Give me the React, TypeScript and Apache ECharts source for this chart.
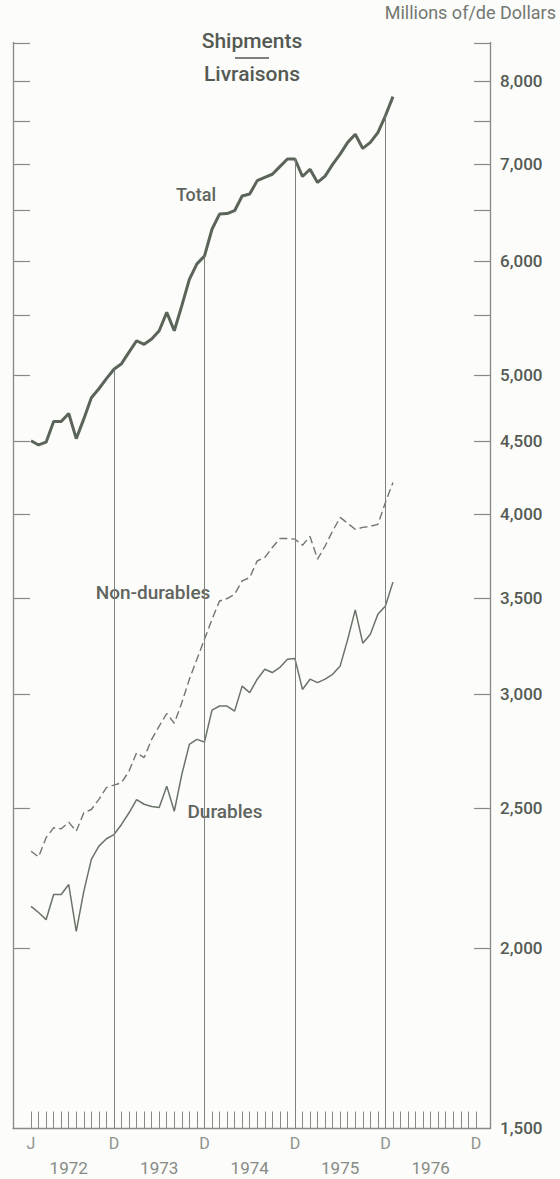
import React, { useEffect, useRef } from 'react';
import * as echarts from 'echarts';

// Monthly values, Jan 1972 .. Jan 1976 (millions of dollars)
const total = [4500, 4470, 4490, 4640, 4640, 4700, 4515, 4660, 4820, 4890, 4970, 5045,
  5090, 5185, 5280, 5250, 5295, 5365, 5525, 5365, 5585, 5825, 5970, 6045,
  6310, 6465, 6470, 6500, 6655, 6675, 6820, 6855, 6890, 6975, 7060, 7060,
  6865, 6945, 6800, 6870, 7000, 7115, 7250, 7345, 7180, 7250, 7365, 7565,
  7800];
const nonDurables = [2335, 2314, 2386, 2424, 2420, 2446, 2411, 2483, 2496, 2537, 2585, 2595,
  2605, 2654, 2733, 2712, 2792, 2852, 2910, 2865, 2961, 3074, 3173, 3276,
  3383, 3483, 3497, 3521, 3597, 3616, 3714, 3734, 3794, 3849, 3849, 3845,
  3808, 3862, 3724, 3803, 3896, 3981, 3944, 3906, 3918, 3925, 3937, 4077,
  4209];
const durables = [2138, 2117, 2093, 2179, 2179, 2214, 2054, 2190, 2305, 2354, 2382, 2398,
  2437, 2483, 2536, 2517, 2508, 2504, 2591, 2489, 2640, 2770, 2792, 2780,
  2926, 2945, 2945, 2921, 3040, 3009, 3074, 3123, 3107, 3132, 3173, 3177,
  3024, 3074, 3057, 3074, 3098, 3140, 3276, 3434, 3256, 3303, 3410, 3456,
  3590];

const decemberIdx = [11, 23, 35, 47];
const monthTicks = [0, 1, 2, 3, 4, 5, 6, 7, 8, 9, 10, 11, 12, 13, 14, 15, 16, 17, 18, 19,
  20, 21, 22, 23, 24, 25, 26, 27, 28, 29, 30, 31, 32, 33, 34, 35, 36, 37, 38, 39,
  40, 41, 42, 43, 44, 45, 46, 47, 48, 49, 50, 51, 52, 53, 54, 55, 56, 57, 58, 59];
const monthLabelPos = [0, 11, 23, 35, 47, 59];
const monthLabelText = ['J', 'D', 'D', 'D', 'D', 'D'];
const yearPos = [5, 17, 29, 41, 53];
const yearText = ['1972', '1973', '1974', '1975', '1976'];
const yTicks = [2000, 2500, 3000, 3500, 4000, 4500, 5000, 5500, 6000, 6500, 7000, 7500, 8000, 8500];
const yLabels = [1500, 2000, 2500, 3000, 3500, 4000, 4500, 5000, 6000, 7000, 8000];

const FONT = 'Roboto';
const AXIS = '#858a84';
const INK = '#545a53';
const LINE = '#5b6459';

export default function App() {
  const ref = useRef<HTMLDivElement>(null);
  useEffect(() => {
    if (!ref.current) return;
    const chart = echarts.init(ref.current, undefined, { renderer: 'svg' });
    const toPairs = (arr: number[]) => arr.map((v, i) => [i, v]);
    const xMin = -2.39;
    const xMax = 60.87;
    const option: any = {
      animation: false,
      backgroundColor: '#fcfcfa',
      grid: { left: 13, right: 70, top: 42.5, bottom: 50.5 },
      xAxis: [
        {
          type: 'value', min: xMin, max: xMax, position: 'bottom',
          splitLine: { show: false },
          axisLine: { show: true, onZero: false, lineStyle: { color: AXIS, width: 1.3 } },
          axisTick: { show: true, inside: true, length: 17, customValues: monthTicks, lineStyle: { color: AXIS, width: 1 } },
          axisLabel: {
            show: true, customValues: monthLabelPos, margin: 7,
            formatter: (v: number) => monthLabelText[monthLabelPos.indexOf(Math.round(v))] || '',
            color: '#8e938d', fontFamily: FONT, fontSize: 16,
          },
        },
        {
          type: 'value', min: xMin, max: xMax, position: 'bottom',
          splitLine: { show: false },
          axisLine: { show: false, onZero: false },
          axisTick: { show: false },
          axisLabel: {
            show: true, customValues: yearPos, margin: 31,
            formatter: (v: number) => yearText[yearPos.indexOf(Math.round(v))] || '',
            color: '#868b85', fontFamily: FONT, fontSize: 17,
          },
        },
      ],
      yAxis: [
        {
          type: 'log', min: 1499, max: 8505, position: 'left',
          splitLine: { show: false },
          axisLine: { show: true, onZero: false, lineStyle: { color: AXIS, width: 1.3 } },
          axisTick: { show: true, inside: true, length: 17, customValues: yTicks, lineStyle: { color: AXIS, width: 1.2 } },
          axisLabel: { show: false },
        },
        {
          type: 'log', min: 1499, max: 8505, position: 'right',
          splitLine: { show: false },
          axisLine: { show: true, onZero: false, lineStyle: { color: AXIS, width: 1.3 } },
          axisTick: { show: true, inside: true, length: 16, customValues: yTicks, lineStyle: { color: AXIS, width: 1.2 } },
          axisLabel: {
            show: true, customValues: yLabels, margin: 10,
            formatter: (v: number) => Math.round(v).toLocaleString('en-US'),
            color: INK, fontFamily: FONT, fontWeight: 500, fontSize: 17,
          },
        },
      ],
      series: [
        {
          name: 'Total', type: 'line', data: toPairs(total), showSymbol: false,
          lineStyle: { color: LINE, width: 3 },
          markLine: {
            silent: true, symbol: 'none', label: { show: false },
            lineStyle: { color: '#7d837b', width: 1, type: 'solid' },
            data: decemberIdx.map((i) => [{ coord: [i, 1499] }, { coord: [i, total[i]] }]),
          },
        },
        {
          name: 'Non-durables', type: 'line', data: toPairs(nonDurables), showSymbol: false,
          lineStyle: { color: '#6f786c', width: 1.4, type: [8, 4] },
        },
        {
          name: 'Durables', type: 'line', data: toPairs(durables), showSymbol: false,
          lineStyle: { color: '#6a7367', width: 1.5 },
        },
      ],
      graphic: [
        { type: 'text', x: 556, y: 12, style: { text: 'Millions of/de Dollars', fill: '#737872', font: `18px ${FONT}`, align: 'right', verticalAlign: 'middle' } },
        { type: 'text', x: 252, y: 41, style: { text: 'Shipments', fill: INK, font: `500 21px ${FONT}`, align: 'center', verticalAlign: 'middle' } },
        { type: 'line', shape: { x1: 235, y1: 58, x2: 269, y2: 58 }, style: { stroke: INK, lineWidth: 1.5 } },
        { type: 'text', x: 252, y: 74, style: { text: 'Livraisons', fill: INK, font: `500 21px ${FONT}`, align: 'center', verticalAlign: 'middle' } },
        { type: 'text', x: 196, y: 194, style: { text: 'Total', fill: '#5f655e', font: `500 18px ${FONT}`, align: 'center', verticalAlign: 'middle' } },
        { type: 'text', x: 153, y: 592, style: { text: 'Non-durables', fill: '#5f655e', font: `500 19px ${FONT}`, align: 'center', verticalAlign: 'middle' } },
        { type: 'text', x: 225, y: 811, style: { text: 'Durables', fill: '#5f655e', font: `500 19px ${FONT}`, align: 'center', verticalAlign: 'middle' } },
      ],
    };
    chart.setOption(option);
    return () => chart.dispose();
  }, []);
  return (
    <div
      ref={ref}
      style={{ position: 'absolute', left: 0, top: 0, width: 560, height: 1179 }}
    />
  );
}
